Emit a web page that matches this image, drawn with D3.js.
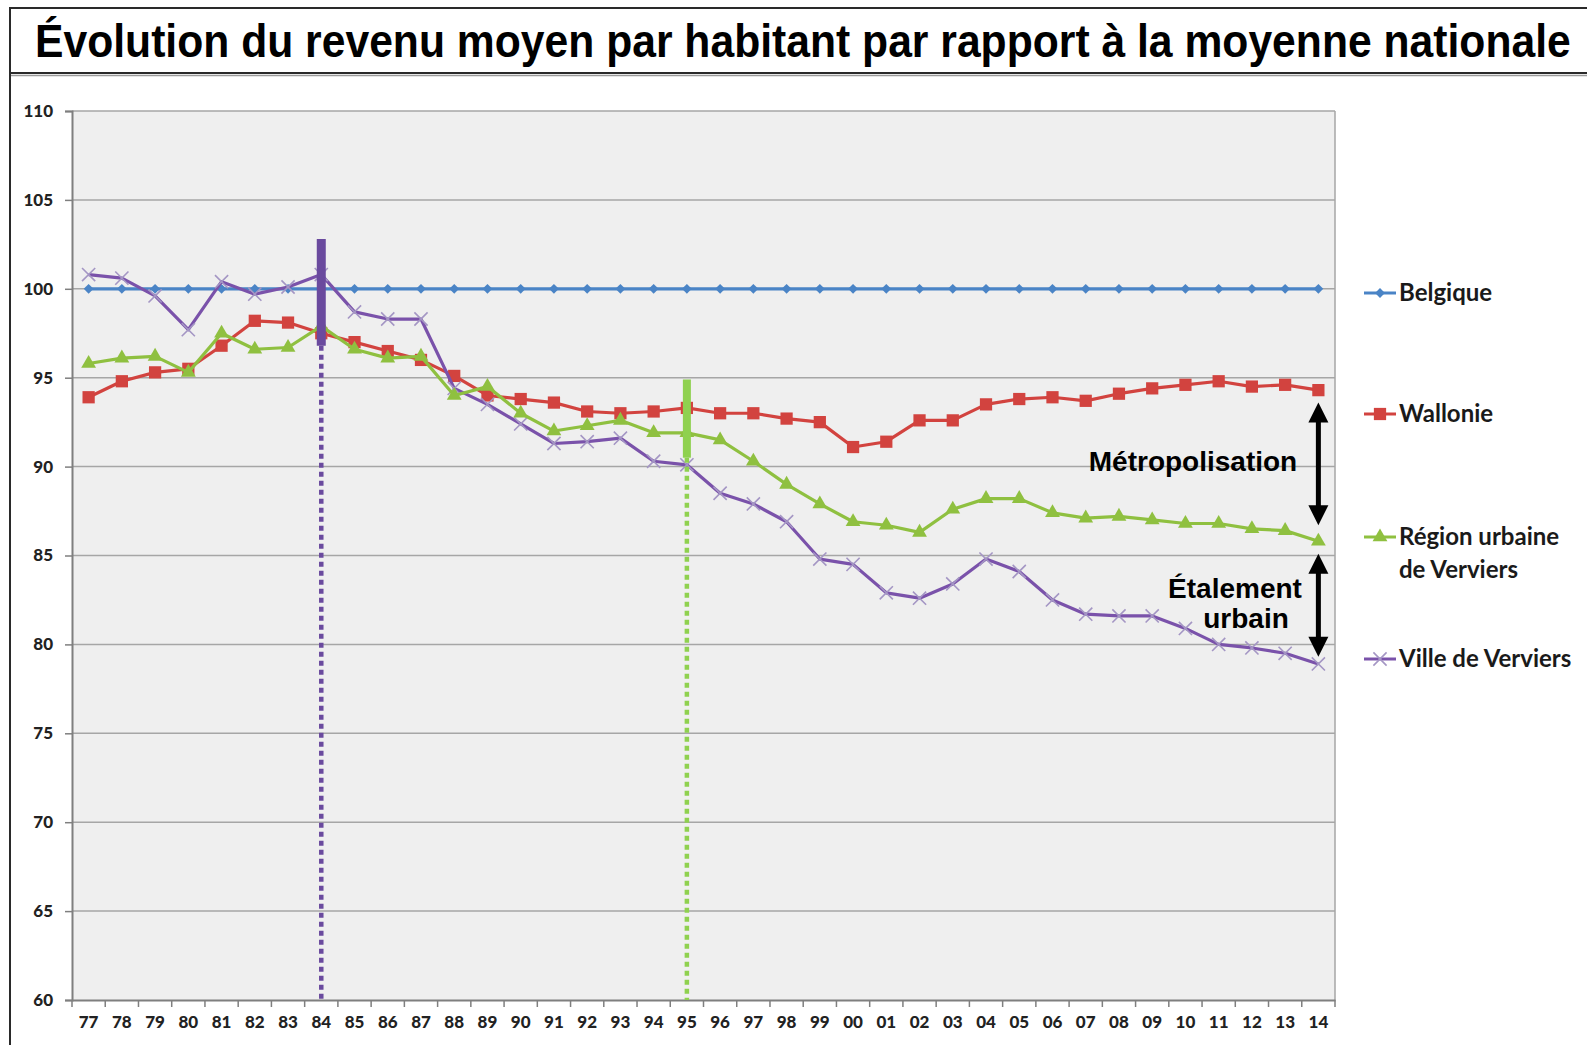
<!DOCTYPE html>
<html lang="fr">
<head>
  <meta charset="utf-8">
  <title>Évolution du revenu moyen par habitant</title>
  <script src="https://cdn.jsdelivr.net/npm/d3@7/dist/d3.min.js"></script>
  <style>
    * { margin: 0; padding: 0; }
    body { background: #fff; }
    svg { display: block; }
  </style>
</head>
<body>
  <div id="chart"></div>
  <script>
    // ---- data ----
    const years = ["77","78","79","80","81","82","83","84","85","86",
                   "87","88","89","90","91","92","93","94","95","96",
                   "97","98","99","00","01","02","03","04","05","06",
                   "07","08","09","10","11","12","13","14"];

    const belgique = [100,100,100,100,100,100,100,100,100,100,
                      100,100,100,100,100,100,100,100,100,100,
                      100,100,100,100,100,100,100,100,100,100,
                      100,100,100,100,100,100,100,100];

    const wallonie = [93.9,94.8,95.3,95.5,96.8,98.2,98.1,97.5,97.0,96.5,
                      96.0,95.1,94.0,93.8,93.6,93.1,93.0,93.1,93.3,93.0,
                      93.0,92.7,92.5,91.1,91.4,92.6,92.6,93.5,93.8,93.9,
                      93.7,94.1,94.4,94.6,94.8,94.5,94.6,94.3];

    const regionVerviers = [95.8,96.1,96.2,95.3,97.5,96.6,96.7,97.9,96.6,96.1,
                            96.2,94.0,94.5,93.0,92.0,92.3,92.6,91.9,91.9,91.5,
                            90.3,89.0,87.9,86.9,86.7,86.3,87.6,88.2,88.2,87.4,
                            87.1,87.2,87.0,86.8,86.8,86.5,86.4,85.8];

    const villeVerviers = [100.8,100.6,99.6,97.7,100.4,99.7,100.1,100.8,98.7,98.3,
                           98.3,94.4,93.5,92.4,91.3,91.4,91.6,90.3,90.1,88.5,
                           87.9,86.9,84.8,84.5,82.9,82.6,83.4,84.8,84.1,82.5,
                           81.7,81.6,81.6,80.9,80.0,79.8,79.5,78.9];

    const yTicks = [60,65,70,75,80,85,90,95,100,105,110];

    const seriesNames = ["Belgique", "Wallonie", "Région urbaine|de Verviers", "Ville de Verviers"];

    // vertical markers: year, solid part (from, to)
    const markYears = ["84", "95"];
    const markSolid = [[102.8, 96.8], [94.9, 90.5]];

    // gap arrows at the last year
    const arrowYear = "14";
    const arrowRanges = [[93.6, 86.7], [85.1, 79.3]];
    const arrowLabels = ["Métropolisation", "Étalement|urbain"];

    // ---- layout ----
    const W = 1587, H = 1045;
    const pL = 72, pR = 1335, pT = 111, pB = 1000;
    const colors = ["#4a84c6", "#d2433f", "#8fc040", "#7a52aa"];
    const markColors = ["#6a4a9e", "#8fd14f"];

    const svg = d3.select("#chart").append("svg")
      .attr("width", W).attr("height", H);

    // title frame
    svg.append("rect")
      .attr("x", 10).attr("y", 8).attr("width", W).attr("height", 65)
      .attr("fill", "#fff").attr("stroke", "#2a2a2a").attr("stroke-width", 2);
    svg.append("line")
      .attr("x1", 10).attr("x2", W).attr("y1", 75.5).attr("y2", 75.5)
      .attr("stroke", "#9a9a9a").attr("stroke-width", 1.5);
    svg.append("line")
      .attr("x1", 10).attr("x2", 10).attr("y1", 73).attr("y2", H)
      .attr("stroke", "#2a2a2a").attr("stroke-width", 2);

    // title: tall bold face, squeezed horizontally to fit the box
    const title = svg.append("text")
      .style("font-family", "'Liberation Sans', Arial, sans-serif")
      .style("font-weight", "bold")
      .style("font-size", "47px")
      .style("fill", "#000")
      .text("Évolution du revenu moyen par habitant par rapport à la moyenne nationale");
    const natural = title.node().getComputedTextLength();
    title.attr("transform", `translate(35,57) scale(${1536 / natural},1)`);

    const x = d3.scaleBand().domain(years).range([pL, pR]).padding(0);
    const bw = x.bandwidth();
    const cx = d => x(d) + bw / 2;
    const y = d3.scaleLinear().domain([60, 110]).range([pB, pT]);

    // plot background
    svg.append("rect")
      .attr("x", pL).attr("y", pT)
      .attr("width", pR - pL).attr("height", pB - pT)
      .attr("fill", "#efefef");

    // gridlines
    svg.append("g").selectAll("line")
      .data(yTicks.filter(v => v > 60))
      .join("line")
      .attr("x1", pL).attr("x2", pR)
      .attr("y1", d => y(d)).attr("y2", d => y(d))
      .attr("stroke", "#a6a6a6").attr("stroke-width", 1.5);

    // right border
    svg.append("line")
      .attr("x1", pR).attr("x2", pR).attr("y1", pT).attr("y2", pB)
      .attr("stroke", "#a6a6a6").attr("stroke-width", 1.5);

    // y axis
    const yAxis = svg.append("g")
      .attr("transform", `translate(${pL},0)`)
      .call(d3.axisLeft(y).tickValues(yTicks).tickSize(7).tickPadding(12));
    yAxis.select(".domain").attr("stroke", "#7f7f7f").attr("stroke-width", 2);
    yAxis.selectAll(".tick line").attr("stroke", "#7f7f7f").attr("stroke-width", 1.5);
    yAxis.selectAll(".tick text")
      .style("font-family", "Lato, 'Open Sans', sans-serif")
      .style("font-weight", "900").style("font-size", "17px").style("fill", "#222");

    // x axis
    const xAxis = svg.append("g")
      .attr("transform", `translate(0,${pB})`)
      .call(d3.axisBottom(x).tickSize(0).tickPadding(16));
    xAxis.select(".domain").attr("stroke", "#7f7f7f").attr("stroke-width", 2);
    xAxis.selectAll(".tick text")
      .style("font-family", "Lato, 'Open Sans', sans-serif")
      .style("font-weight", "900").style("font-size", "17px").style("fill", "#222");
    xAxis.selectAll(".bnd")
      .data(years.concat(["end"]))
      .join("line")
      .attr("class", "bnd")
      .attr("x1", d => d === "end" ? pR : x(d))
      .attr("x2", d => d === "end" ? pR : x(d))
      .attr("y1", 0).attr("y2", 7)
      .attr("stroke", "#7f7f7f").attr("stroke-width", 1.5);

    // series
    const allSeries = [belgique, wallonie, regionVerviers, villeVerviers];
    const line = d3.line().x((d, i) => cx(years[i])).y(d => y(d));

    const symbols = [
      d3.symbol().type(d3.symbolSquare).size(48),
      d3.symbol().type(d3.symbolSquare).size(150),
      d3.symbol().type(d3.symbolTriangle).size(95),
      d3.symbol().type(d3.symbolX).size(115)
    ];
    const symRot = [45, 0, 0, 0];

    function drawMarker(g, k, px, py) {
      const p = g.append("path")
        .attr("d", symbols[k]())
        .attr("transform", `translate(${px},${py}) rotate(${symRot[k]})`);
      if (k === 3) {
        p.attr("fill", "none").attr("stroke", "#a496c4").attr("stroke-width", 1.6);
      } else {
        p.attr("fill", colors[k]);
      }
    }

    // draw in order so purple and green sit above red/blue as in picture
    [0, 1, 3, 2].forEach(k => {
      const g = svg.append("g");
      g.append("path")
        .datum(allSeries[k])
        .attr("d", line)
        .attr("fill", "none")
        .attr("stroke", colors[k])
        .attr("stroke-width", 3.2)
        .attr("stroke-linejoin", "round");
      allSeries[k].forEach((v, i) => drawMarker(g, k, cx(years[i]), y(v)));
    });

    // vertical markers
    markYears.forEach((yr, i) => {
      const g = svg.append("g");
      g.append("line")
        .attr("x1", cx(yr)).attr("x2", cx(yr))
        .attr("y1", y(markSolid[i][1])).attr("y2", pB)
        .attr("stroke", markColors[i]).attr("stroke-width", 4.5)
        .attr("stroke-dasharray", "5,4");
      g.append("line")
        .attr("x1", cx(yr)).attr("x2", cx(yr))
        .attr("y1", y(markSolid[i][0])).attr("y2", y(markSolid[i][1]))
        .attr("stroke", markColors[i]).attr("stroke-width", i === 0 ? 9 : 8);
    });

    // arrows
    const ax = cx(arrowYear);
    arrowRanges.forEach(r => {
      const y1 = y(r[0]), y2 = y(r[1]);
      const g = svg.append("g").attr("fill", "#000");
      g.append("line")
        .attr("x1", ax).attr("x2", ax).attr("y1", y1 + 12).attr("y2", y2 - 12)
        .attr("stroke", "#000").attr("stroke-width", 5);
      g.append("path").attr("d", `M${ax},${y1} L${ax - 10},${y1 + 20} L${ax + 10},${y1 + 20} Z`);
      g.append("path").attr("d", `M${ax},${y2} L${ax - 10},${y2 - 20} L${ax + 10},${y2 - 20} Z`);
    });

    // annotation texts
    const annoFont = g => g.style("font-family", "'Liberation Sans', Arial, sans-serif")
      .style("font-weight", "bold").style("font-size", "28px").style("fill", "#000");
    svg.append("text").attr("x", 1193).attr("y", 471)
      .attr("text-anchor", "middle").call(annoFont).text(arrowLabels[0].split("|")[0]);
    const et = arrowLabels[1].split("|");
    svg.append("text").attr("x", 1235).attr("y", 598)
      .attr("text-anchor", "middle").call(annoFont).text(et[0]);
    svg.append("text").attr("x", 1246).attr("y", 628)
      .attr("text-anchor", "middle").call(annoFont).text(et[1]);

    // legend
    const legY = [293, 414, 537, 659];
    seriesNames.forEach((name, k) => {
      const g = svg.append("g");
      g.append("line")
        .attr("x1", 1364).attr("x2", 1396).attr("y1", legY[k]).attr("y2", legY[k])
        .attr("stroke", colors[k]).attr("stroke-width", 3);
      drawMarker(g, k, 1380, legY[k]);
      name.split("|").forEach((part, j) => {
        g.append("text")
          .attr("x", 1399).attr("y", legY[k] + 8 + j * 33)
          .style("font-family", "Lato, 'Open Sans', sans-serif")
          .style("font-weight", "bold").style("font-size", "24px").style("fill", "#1a1a1a")
          .text(part);
      });
    });
  </script>
</body>
</html>
